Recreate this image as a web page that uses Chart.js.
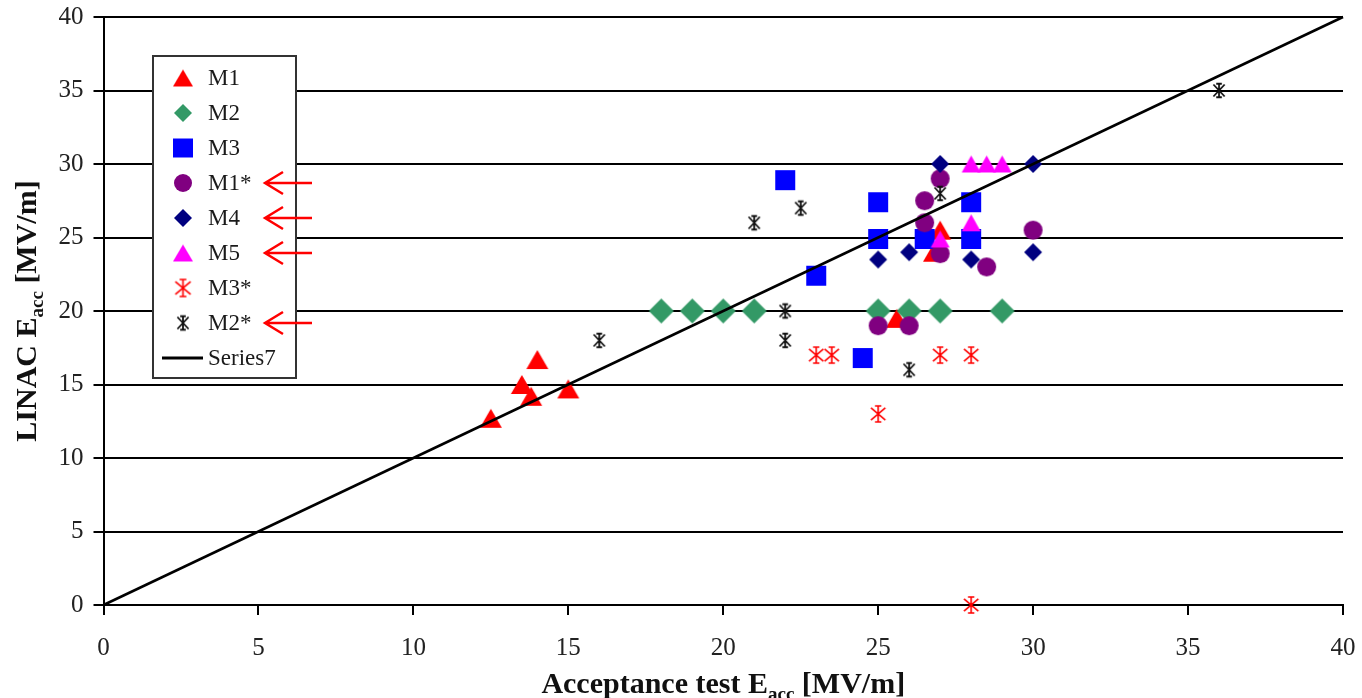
<!DOCTYPE html>
<html>
<head>
<meta charset="utf-8">
<title>LINAC Eacc vs acceptance test Eacc</title>
<script src="https://cdn.jsdelivr.net/npm/chart.js@4.4.1/dist/chart.umd.min.js"></script>
<style>
  html, body { margin: 0; padding: 0; background: #fff; }
  #chart { display: block; }
</style>
</head>
<body>
<canvas id="chart" width="1362" height="698"></canvas>
<script>
// Eacc per cavity: acceptance test (x) against LINAC (y), MV/m
const m1X = [12.5, 13.5, 13.8, 14, 15, 25.6, 27, 26.8];
const m1Y = [12.7, 15, 14.2, 16.7, 14.7, 19.5, 25.5, 24];

const m2X = [18, 19, 20, 21, 25, 26, 27, 29];
const m2Y = [20, 20, 20, 20, 20, 20, 20, 20];

const m3X = [22, 25, 25, 23, 24.5, 26.5, 28, 28];
const m3Y = [28.9, 27.4, 24.9, 22.4, 16.8, 24.9, 27.4, 24.9];

const m1sX = [27, 26.5, 26.5, 27, 28.5, 30, 25, 26];
const m1sY = [29, 27.5, 26, 23.9, 23, 25.5, 19, 19];

const m4X = [27, 30, 25, 26, 28, 30];
const m4Y = [30, 30, 23.5, 24, 23.5, 24];

const m5X = [28, 28.5, 29, 28, 27];
const m5Y = [30, 30, 30, 26, 24.9];

const m3sX = [23, 23.5, 27, 28, 25, 28];
const m3sY = [17, 17, 17, 17, 13, 0];

const m2sX = [16, 21, 22.5, 22, 22, 26, 27, 36];
const m2sY = [18, 26, 27, 20, 18, 16, 28, 35];

// diagonal y = x
const lineX = [0, 40];
const lineY = [0, 40];

const tickValues = [0, 5, 10, 15, 20, 25, 30, 35, 40];

const legendNames = ['M1', 'M2', 'M3', 'M1*', 'M4', 'M5', 'M3*', 'M2*', 'Series7'];
const flagged = ['M1*', 'M4', 'M5', 'M2*'];

function pts(xs, ys) {
  return xs.map((x, i) => ({ x: x, y: ys[i] }));
}

// marker bitmaps, centred on their bounding box
function marker(kind, color, w, h) {
  const pad = 2;
  const c = document.createElement('canvas');
  c.width = w + pad * 2;
  c.height = h + pad * 2;
  const g = c.getContext('2d');
  g.translate(pad, pad);
  g.fillStyle = color;
  g.strokeStyle = color;
  g.beginPath();
  if (kind === 'triangle') {
    g.moveTo(w / 2, 0); g.lineTo(w, h); g.lineTo(0, h); g.closePath(); g.fill();
  } else if (kind === 'diamond') {
    g.moveTo(w / 2, 0); g.lineTo(w, h / 2); g.lineTo(w / 2, h); g.lineTo(0, h / 2); g.closePath(); g.fill();
  } else if (kind === 'square') {
    g.fillRect(0, 0, w, h);
  } else if (kind === 'circle') {
    g.arc(w / 2, h / 2, w / 2, 0, Math.PI * 2); g.fill();
  } else if (kind === 'asterisk') {
    g.lineWidth = 1.6;
    g.moveTo(w / 2, 0); g.lineTo(w / 2, h);
    g.moveTo(w * 0.05, h * 0.12); g.lineTo(w * 0.95, h * 0.88);
    g.moveTo(w * 0.95, h * 0.12); g.lineTo(w * 0.05, h * 0.88);
    g.moveTo(w * 0.3, 0); g.lineTo(w * 0.7, 0);
    g.moveTo(w * 0.3, h); g.lineTo(w * 0.7, h);
    g.stroke();
  } else if (kind === 'xbar') {
    g.lineWidth = 1.8;
    g.moveTo(w * 0.1, h * 0.1); g.lineTo(w * 0.9, h * 0.9);
    g.moveTo(w * 0.9, h * 0.1); g.lineTo(w * 0.1, h * 0.9);
    g.moveTo(w / 2, 0); g.lineTo(w / 2, h);
    g.moveTo(w * 0.3, h * 0.05); g.lineTo(w * 0.7, h * 0.05);
    g.moveTo(w * 0.3, h * 0.95); g.lineTo(w * 0.7, h * 0.95);
    g.stroke();
  }
  return c;
}

const RED = '#ff0000', GREEN = '#339966', BLUE = '#0000ff', PURPLE = '#800080',
      NAVY = '#000080', MAGENTA = '#ff00ff';

const plotMarks = [
  marker('triangle', RED, 22, 19),
  marker('diamond', GREEN, 25, 25),
  marker('square', BLUE, 20, 20),
  marker('circle', PURPLE, 19, 19),
  marker('diamond', NAVY, 18, 18),
  marker('triangle', MAGENTA, 19, 17),
  marker('asterisk', RED, 16, 16),
  marker('xbar', '#111', 14, 15)
];
const legendMarks = [
  marker('triangle', RED, 20, 17),
  marker('diamond', GREEN, 18, 18),
  marker('square', BLUE, 20, 19),
  marker('circle', PURPLE, 18, 18),
  marker('diamond', NAVY, 18, 18),
  marker('triangle', MAGENTA, 20, 17),
  marker('asterisk', RED, 17, 17),
  marker('xbar', '#111', 14, 15)
];

const series = [
  [m1X, m1Y], [m2X, m2Y], [m3X, m3Y], [m1sX, m1sY],
  [m4X, m4Y], [m5X, m5Y], [m3sX, m3sY], [m2sX, m2sY]
];

const datasets = series.map((s, i) => ({
  label: legendNames[i],
  data: pts(s[0], s[1]),
  pointStyle: plotMarks[i],
  pointRadius: 10,
  showLine: false,
  clip: false,
  order: 9 - i
}));
datasets.push({
  label: 'Series7',
  data: pts(lineX, lineY),
  showLine: true,
  borderColor: '#000',
  borderWidth: 2.5,
  pointRadius: 0,
  clip: false,
  order: 0
});

const SERIF = "'Liberation Serif', 'Times New Roman', serif";

// axis titles with subscript "acc"
function drawTitle(ctx, x, y, rotate, head) {
  const big = 'bold 30px ' + SERIF;
  const small = 'bold 19px ' + SERIF;
  const tail = ' [MV/m]';
  ctx.save();
  ctx.translate(x, y);
  if (rotate) ctx.rotate(-Math.PI / 2);
  ctx.fillStyle = '#111';
  ctx.textBaseline = 'alphabetic';
  ctx.textAlign = 'left';
  ctx.font = big;
  const w1 = ctx.measureText(head).width;
  const w3 = ctx.measureText(tail).width;
  ctx.font = small;
  const w2 = ctx.measureText('acc').width;
  let cx = -(w1 + w2 + w3) / 2;
  ctx.font = big;
  ctx.fillText(head, cx, 0);
  cx += w1;
  ctx.font = small;
  ctx.fillText('acc', cx, 7);
  cx += w2;
  ctx.font = big;
  ctx.fillText(tail, cx, 0);
  ctx.restore();
}

const extras = {
  id: 'extras',
  afterDraw(chart) {
    const ctx = chart.ctx;
    const area = chart.chartArea;
    drawTitle(ctx, (area.left + area.right) / 2, 693, false, 'Acceptance test E');
    drawTitle(ctx, 36, (area.top + area.bottom) / 2, true, 'LINAC E');

    // legend box
    ctx.save();
    ctx.fillStyle = '#fff';
    ctx.fillRect(153, 56, 143, 322);
    ctx.strokeStyle = '#333';
    ctx.lineWidth = 2;
    ctx.strokeRect(153, 56, 143, 322);
    ctx.font = '23px ' + SERIF;
    ctx.textBaseline = 'middle';
    ctx.textAlign = 'left';
    ctx.fillStyle = '#1a1a1a';
    legendNames.forEach((name, i) => {
      const y = 78 + i * 35;
      if (i < legendMarks.length) {
        const m = legendMarks[i];
        ctx.drawImage(m, 183 - m.width / 2, y - m.height / 2);
      } else {
        ctx.strokeStyle = '#000';
        ctx.lineWidth = 3;
        ctx.beginPath();
        ctx.moveTo(162, y);
        ctx.lineTo(203, y);
        ctx.stroke();
      }
      ctx.fillText(name, 208, y + 1);
      if (flagged.includes(name)) {
        ctx.strokeStyle = RED;
        ctx.lineWidth = 2.5;
        ctx.beginPath();
        ctx.moveTo(312, y);
        ctx.lineTo(265, y);
        ctx.moveTo(283, y - 11);
        ctx.lineTo(265, y);
        ctx.lineTo(283, y + 11);
        ctx.stroke();
      }
    });
    ctx.restore();
  }
};

const ctx = document.getElementById('chart').getContext('2d');
new Chart(ctx, {
  type: 'scatter',
  data: { datasets },
  options: {
    responsive: false,
    animation: false,
    events: [],
    layout: { padding: { top: 17, right: 19, left: 0, bottom: 0 } },
    plugins: {
      legend: { display: false },
      tooltip: { enabled: false }
    },
    scales: {
      x: {
        type: 'linear',
        min: 0,
        max: 40,
        afterBuildTicks: s => { s.ticks = tickValues.map(v => ({ value: v })); },
        afterFit: s => { s.height = 93; s.paddingLeft = 0; s.paddingRight = 0; },
        ticks: {
          font: { family: SERIF, size: 25 },
          color: '#222',
          padding: 18,
          maxRotation: 0
        },
        grid: {
          drawOnChartArea: false,
          drawTicks: true,
          tickLength: 10,
          color: '#000',
          lineWidth: 2
        },
        border: { color: '#000', width: 2 }
      },
      y: {
        type: 'linear',
        min: 0,
        max: 40,
        afterBuildTicks: s => { s.ticks = tickValues.map(v => ({ value: v })); },
        afterFit: s => { s.width = 103.5; s.paddingTop = 0; s.paddingBottom = 0; },
        ticks: {
          font: { family: SERIF, size: 25 },
          color: '#222',
          padding: 10
        },
        grid: {
          color: '#000',
          lineWidth: 2,
          tickLength: 10
        },
        border: { color: '#000', width: 2 }
      }
    }
  },
  plugins: [extras]
});
</script>
</body>
</html>
